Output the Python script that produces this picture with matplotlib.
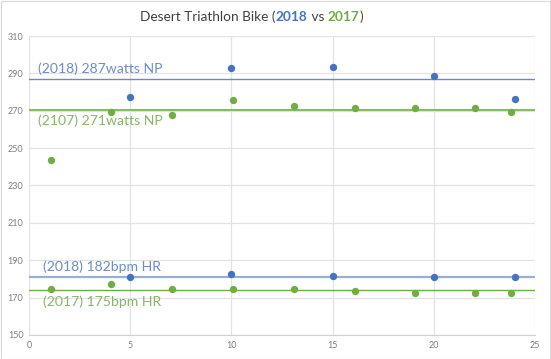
import matplotlib
matplotlib.use("Agg")
import matplotlib.pyplot as plt
from matplotlib.patches import Rectangle

# Data
x_power_2018 = [5, 10, 15, 20, 24]
y_power_2018 = [277.5, 292.7, 293.4, 288.6, 276.3]
x_power_2017 = [1.07, 4.07, 7.06, 10.1, 13.1, 16.1, 19.06, 22.05, 23.8]
y_power_2017 = [243.5, 269.5, 267.6, 275.6, 272.4, 271.5, 271.5, 271.5, 269.5]
x_hr_2018 = [5, 10, 15, 20, 24]
y_hr_2018 = [180.8, 182.7, 181.5, 180.8, 180.8]
x_hr_2017 = [1.07, 4.07, 7.06, 10.1, 13.1, 16.1, 19.06, 22.05, 23.8]
y_hr_2017 = [174.4, 177.5, 174.4, 174.4, 174.4, 173.6, 172.6, 172.6, 172.6]
avg_lines = [286.8, 270.4, 181.3, 174.3]
avg_labels = ["(2018) 287watts NP", "(2107) 271watts NP", "(2018) 182bpm HR", "(2017) 175bpm HR"]
x_ticks = [0, 5, 10, 15, 20, 25]
y_ticks = [150, 170, 190, 210, 230, 250, 270, 290, 310]

BLUE = "#4472C4"
GREEN = "#70AD47"
BLUE_TXT = "#6E8CC6"
GREEN_TXT = "#88B566"

plt.rcParams['font.family'] = ['Lato', 'DejaVu Sans']

fig = plt.figure(figsize=(5.51, 3.59), dpi=100)
ax = fig.add_axes([29/551, 1-335/359, (535-29)/551, (335-36)/359])

ax.set_xlim(0, 25)
ax.set_ylim(150, 310)
ax.set_xticks(x_ticks)
ax.set_yticks(y_ticks)
ax.grid(True, color="#E3E3E3", linewidth=0.9)
ax.set_axisbelow(True)
for s in ["top", "right", "left"]:
    ax.spines[s].set_visible(False)
ax.spines["bottom"].set_color("#D0D0D0")
ax.tick_params(length=0, labelsize=6.5, labelcolor="#7F7F7F", pad=4)

lc = ["#6F88BC", "#86BC62", "#9AAED3", "#70AD47"]
lw = [1.0, 1.5, 1.6, 1.0]
for v, c, w in zip(avg_lines, lc, lw):
    ax.axhline(v, color=c, linewidth=w, zorder=2)

ax.scatter(x_power_2018, y_power_2018, s=28, color=BLUE, zorder=3, linewidths=0)
ax.scatter(x_power_2017, y_power_2017, s=28, color=GREEN, zorder=3, linewidths=0)
ax.scatter(x_hr_2018, y_hr_2018, s=28, color=BLUE, zorder=3, linewidths=0)
ax.scatter(x_hr_2017, y_hr_2017, s=28, color=GREEN, zorder=3, linewidths=0)

label_pos = [(0.45, 292.7), (0.45, 264.7), (0.68, 186.6), (0.70, 167.8)]
label_col = [BLUE_TXT, GREEN_TXT, BLUE_TXT, GREEN_TXT]
for (lx, ly), t, c in zip(label_pos, avg_labels, label_col):
    ax.text(lx, ly, t, color=c, fontsize=10.1, va="center", ha="left", zorder=4)

# Title with coloured parts
parts = [("Desert Triathlon Bike (", "#404040", "normal"),
         ("2018", BLUE, "bold"),
         (" vs ", "#404040", "normal"),
         ("2017", GREEN, "bold"),
         (")", "#404040", "normal")]
fig.canvas.draw()
r = fig.canvas.get_renderer()
texts = []
widths = []
for t, c, w in parts:
    tx = fig.text(0, 1-17/359, t, color=c, fontweight=w, fontsize=9.8, va="center", ha="left")
    bb = tx.get_window_extent(renderer=r)
    texts.append(tx)
    widths.append(bb.width)
total = sum(widths)
start = 251.5 - total / 2
for tx, wd in zip(texts, widths):
    tx.set_x(start / 551)
    start += wd

fig.patches.append(Rectangle((0.5/551, 0.5/359), 549.5/551, 358/359, transform=fig.transFigure,
                             fill=False, edgecolor="#D9D9D9", linewidth=0.8))

fig.savefig("out.png", dpi=100)
